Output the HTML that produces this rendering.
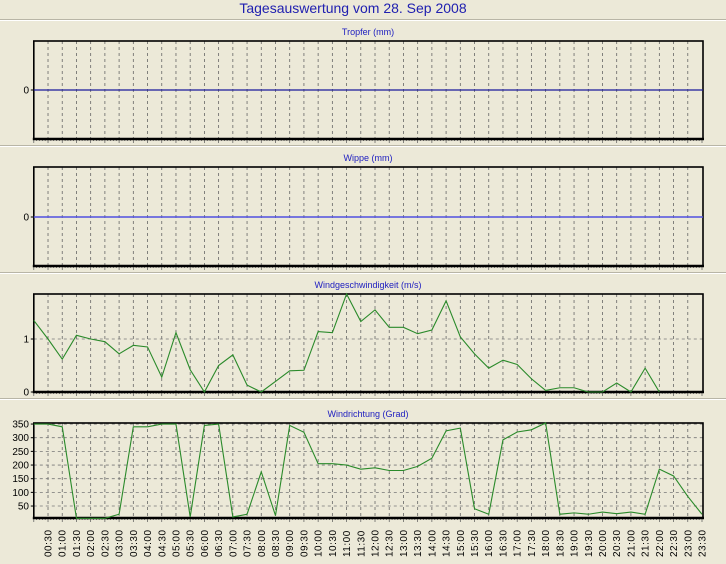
<!DOCTYPE html><html><head><meta charset="utf-8"><style>
html,body{margin:0;padding:0;background:#ece9d8;width:726px;height:564px;overflow:hidden}
svg text{font-family:"Liberation Sans",sans-serif}
</style></head><body>
<svg id="s" width="726" height="564" xmlns="http://www.w3.org/2000/svg">
<rect width="726" height="564" fill="#ece9d8"/>
<text x="353" y="13" font-size="14" fill="#2020b0" text-anchor="middle">Tagesauswertung vom 28. Sep 2008</text>
</svg>
<script>
var s=document.getElementById('s'),NS='http://www.w3.org/2000/svg';
function el(t,a,txt){var e=document.createElementNS(NS,t);for(var k in a)e.setAttribute(k,a[k]);if(txt!=null)e.textContent=txt;s.appendChild(e);return e;}
var X0=33.8,DX=14.217,XR=703;
function X(i){return X0+i*DX;}
[19,145,272,398].forEach(function(y){el('line',{x1:0,x2:726,y1:y+.5,y2:y+.5,stroke:'#b8b5a6'});el('line',{x1:0,x2:726,y1:y+1.5,y2:y+1.5,stroke:'#fff'});});
function panel(top,bot,title,ticks,hgrid){
 el('text',{x:368,y:top-6,'font-size':9,fill:'#2020c0','text-anchor':'middle'},title);
 for(var i=1;i<47;i++){el('line',{x1:X(i),x2:X(i),y1:top,y2:bot,stroke:'#666','stroke-dasharray':'3,3','stroke-width':.8});}
 hgrid.forEach(function(y){el('line',{x1:X0,x2:XR,y1:y,y2:y,stroke:'#777','stroke-dasharray':'3,3','stroke-width':.8});});
 for(var i=0;i<=47*5;i++){var x=X0+i*DX/5;if(x>XR)break;el('line',{x1:x,x2:x,y1:bot,y2:bot+(i%5==0?4:2),stroke:'#555','stroke-width':.7});}
 el('rect',{x:X0,y:top,width:XR-X0,height:bot-top,fill:'none',stroke:'#000','stroke-width':1.6});
 el('line',{x1:X0-1,x2:XR+1,y1:bot,y2:bot,stroke:'#000','stroke-width':2.5});
 ticks.forEach(function(t){el('text',{x:29,y:t[1]+3.5,'font-size':10,fill:'#000','text-anchor':'end'},t[0]);el('line',{x1:X0-3,x2:X0,y1:t[1],y2:t[1],stroke:'#000'});});
}
panel(41,139,'Tropfer (mm)',[['0',90]],[]);
el('line',{x1:X0,x2:XR,y1:90,y2:90,stroke:'#1a1a9a','stroke-width':1.2});
panel(167,266,'Wippe (mm)',[['0',217]],[]);
el('line',{x1:X0,x2:XR,y1:217,y2:217,stroke:'#5050e0','stroke-width':1.5});
panel(294,392,'Windgeschwindigkeit (m/s)',[['1',339],['0',392]],[339]);
var ws=[1.35,1.0,0.62,1.07,1.0,0.95,0.72,0.88,0.85,0.28,1.12,0.42,0,0.5,0.7,0.13,0,0.2,0.4,0.41,1.14,1.12,1.85,1.33,1.55,1.22,1.22,1.1,1.17,1.72,1.04,0.72,0.45,0.6,0.52,0.25,0.03,0.08,0.08,0,0,0.17,0,0.45,0];
el('polyline',{points:ws.map(function(v,i){return X(i)+','+(392-v*53)}).join(' '),fill:'none',stroke:'#2a8a2a','stroke-width':1.1});
var g=[];for(var v=50;v<=350;v+=50)g.push([String(v),519.7-v*0.2733]);
panel(423,518,'Windrichtung (Grad)',g,g.map(function(t){return t[1]}));
var wd=[350,350,340,5,5,5,20,340,340,350,350,10,345,350,10,20,175,15,345,320,205,205,200,185,190,180,180,195,225,325,335,40,20,292,321,329,354,20,25,20,28,22,28,20,185,160,85,20];
el('polyline',{points:wd.map(function(v,i){return X(i)+','+Math.max(423,519.7-v*0.2733)}).join(' '),fill:'none',stroke:'#2a8a2a','stroke-width':1.1});
for(var i=1;i<48;i++){var m=i*30,h=Math.floor(m/60),mm=m%60;var lab=(h<10?'0':'')+h+':'+(mm<10?'0':'')+mm;
 var x=X(i)+3.5;el('text',{x:x,y:557,'font-size':10,'font-family':'Liberation Mono, monospace',fill:'#000',transform:'rotate(-90 '+x+' 557)','letter-spacing':'0.5'},lab);}
</script>
</body></html>
